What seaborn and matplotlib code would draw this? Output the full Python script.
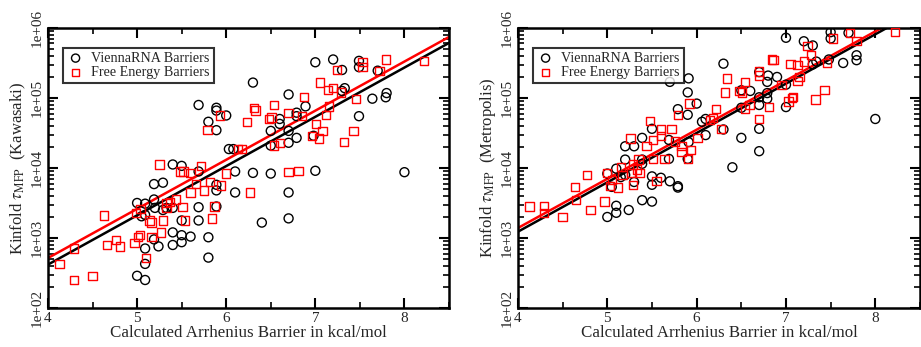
import matplotlib
matplotlib.use("Agg")
import matplotlib.pyplot as plt
import numpy as np
import pandas as pd
import seaborn as sns
from matplotlib.ticker import LogLocator, MultipleLocator, NullFormatter

# ---------------------------------------------------------------------------
# Data (barrier in kcal/mol, log10 of Kinfold tau_MFP)
# ---------------------------------------------------------------------------

kaw_vienna_x = [7.0, 7.2, 7.49, 7.49, 7.3, 7.7, 6.3, 7.33, 7.3, 6.7, 7.8, 7.79, 7.64,
                5.69, 5.89, 5.89, 6.0, 6.89, 6.79, 6.79, 6.6, 6.6, 5.8, 5.89, 6.5,
                6.7, 7.49, 6.5, 6.7, 6.79, 6.98, 6.03, 6.08, 5.4, 5.5, 5.69, 6.1,
                6.3, 6.5, 7.0, 8.0, 5.19, 5.29, 5.89, 5.89, 6.1, 6.7, 5.0, 5.09,
                5.19, 5.2, 5.09, 5.29, 5.33, 5.4, 5.69, 5.89, 5.05, 5.5, 5.69, 6.7,
                6.4, 5.4, 5.5, 5.6, 5.8, 5.19, 5.4, 5.5, 5.24, 5.09, 5.09, 5.8,
                5.0, 5.09]
kaw_vienna_logy = [5.51, 5.55, 5.53, 5.44, 5.40, 5.39, 5.22, 5.14, 5.10, 5.05, 5.07, 5.01,
                   4.99, 4.90, 4.86, 4.82, 4.75, 4.88, 4.79, 4.74, 4.70, 4.63, 4.66, 4.54,
                   4.53, 4.53, 4.74, 4.32, 4.36, 4.43, 4.46, 4.27, 4.27, 4.05, 4.03, 3.95,
                   3.95, 3.93, 3.92, 3.96, 3.94, 3.77, 3.79, 3.76, 3.68, 3.65, 3.65, 3.50,
                   3.49, 3.55, 3.43, 3.33, 3.40, 3.43, 3.43, 3.44, 3.45, 3.31, 3.25, 3.25,
                   3.28, 3.22, 3.08, 3.04, 3.02, 3.01, 2.98, 2.90, 2.94, 2.88, 2.85, 2.63,
                   2.72, 2.46, 2.40]

kaw_free_x = [8.22, 7.79, 7.53, 7.53, 7.24, 7.72, 7.05, 7.14, 7.2, 7.29, 6.87, 7.46,
              6.31, 6.33, 6.54, 5.93, 6.23, 6.48, 6.51, 6.7, 6.85, 7.15, 7.12, 7.01,
              7.08, 7.43, 5.79, 6.96, 7.04, 7.32, 6.54, 6.6, 6.13, 6.18, 5.25, 5.72,
              5.48, 5.52, 5.6, 6.0, 6.7, 6.81, 5.66, 5.82, 5.94, 5.6, 5.75, 6.27,
              5.44, 5.33, 5.37, 4.99, 5.04, 5.33, 5.51, 5.87, 4.63, 5.14, 5.16, 5.29,
              5.54, 5.84, 5.27, 5.03, 5.01, 5.16, 4.76, 4.66, 4.81, 4.97, 4.29, 5.1,
              4.13, 4.5, 4.29]
kaw_free_logy = [5.53, 5.55, 5.51, 5.44, 5.40, 5.39, 5.22, 5.11, 5.14, 5.08, 5.01, 4.99,
                 4.86, 4.82, 4.90, 4.75, 4.66, 4.70, 4.72, 4.79, 4.74, 4.88, 4.76, 4.63,
                 4.53, 4.53, 4.54, 4.46, 4.42, 4.37, 4.32, 4.36, 4.27, 4.27, 4.05, 4.03,
                 3.95, 3.95, 3.93, 3.92, 3.94, 3.96, 3.77, 3.80, 3.75, 3.65, 3.68, 3.65,
                 3.55, 3.50, 3.51, 3.36, 3.41, 3.43, 3.44, 3.45, 3.32, 3.25, 3.22, 3.25,
                 3.25, 3.28, 3.08, 3.04, 3.01, 3.01, 2.97, 2.90, 2.88, 2.93, 2.85, 2.71,
                 2.63, 2.46, 2.40]

met_vienna_x = [7.5, 7.5, 7.0, 7.2, 7.3, 7.7, 7.79, 7.79, 7.64, 7.34, 7.3, 7.48,
                6.3, 5.91, 5.7, 6.7, 6.8, 6.79, 6.9, 7.0, 5.9, 6.5, 6.6, 6.7,
                6.79, 6.79, 6.0, 5.79, 5.9, 6.5, 6.7, 7.0, 6.06, 6.1, 5.5, 6.3,
                6.7, 5.39, 5.69, 6.1, 6.5, 5.91, 5.2, 5.3, 6.7, 5.2, 5.69, 5.39,
                5.39, 5.9, 5.1, 5.0, 5.2, 5.15, 6.4, 5.5, 5.5, 5.6, 5.3, 5.05,
                5.7, 5.79, 5.79, 5.39, 5.5, 5.1, 5.1, 5.24, 5.0, 8.0]
met_vienna_logy = [5.94, 5.85, 5.86, 5.81, 5.75, 5.93, 5.61, 5.54, 5.50, 5.52, 5.48, 5.55,
                   5.49, 5.28, 5.23, 5.37, 5.32, 5.23, 5.30, 5.19, 5.08, 5.11, 5.10, 5.01,
                   4.99, 5.07, 4.92, 4.84, 4.76, 4.86, 4.90, 4.87, 4.66, 4.70, 4.56, 4.55,
                   4.56, 4.43, 4.40, 4.47, 4.43, 4.37, 4.31, 4.31, 4.24, 4.12, 4.13, 4.12,
                   4.06, 4.13, 3.99, 3.92, 3.90, 3.87, 4.01, 3.88, 3.76, 3.86, 3.80, 3.73,
                   3.81, 3.74, 3.72, 3.54, 3.52, 3.46, 3.36, 3.40, 3.30, 4.70]

met_free_x = [8.22, 7.72, 7.53, 7.79, 7.24, 7.28, 6.84, 6.86, 7.2, 7.05, 7.13, 7.46,
              6.7, 6.7, 6.34, 6.54, 7.13, 7.15, 6.95, 6.48, 6.51, 6.32, 7.43, 7.03,
              7.07, 7.08, 7.33, 5.92, 6.22, 6.54, 6.59, 6.81, 5.79, 6.7, 6.15, 6.18,
              5.48, 5.6, 5.6, 5.72, 6.27, 5.51, 5.26, 5.76, 5.83, 6.01, 5.44, 5.94,
              5.83, 5.9, 5.64, 5.51, 5.35, 5.29, 5.27, 5.15, 5.17, 5.0, 5.36, 5.33,
              4.77, 5.05, 5.03, 5.12, 5.29, 5.55, 4.64, 4.65, 4.97, 4.13, 4.29, 4.29,
              4.81, 4.5]
met_free_logy = [5.94, 5.93, 5.85, 5.81, 5.74, 5.61, 5.55, 5.54, 5.52, 5.49, 5.47, 5.50,
                 5.38, 5.32, 5.28, 5.23, 5.24, 5.30, 5.19, 5.10, 5.08, 5.08, 5.11, 4.95,
                 5.00, 5.01, 4.98, 4.92, 4.84, 4.85, 4.90, 4.87, 4.76, 4.70, 4.69, 4.71,
                 4.67, 4.55, 4.46, 4.56, 4.56, 4.40, 4.42, 4.38, 4.31, 4.43, 4.31, 4.26,
                 4.23, 4.13, 4.13, 4.13, 4.12, 4.05, 3.93, 4.01, 3.90, 3.93, 3.93, 3.98,
                 3.90, 3.83, 3.74, 3.72, 3.76, 3.81, 3.73, 3.54, 3.52, 3.45, 3.46, 3.36,
                 3.40, 3.30]

# fitted lines as printed: log10(tau) at 4 kcal/mol and slope per kcal/mol
# order: [ViennaRNA, Free Energy]
kaw_fit_at4 = [2.62, 2.714]
kaw_fit_slope = [0.7036, 0.7016]
met_fit_at4 = [3.09, 3.143]
met_fit_slope = [0.705, 0.702]

panels = [
    ("Kawasaki", kaw_vienna_x, kaw_vienna_logy, kaw_free_x, kaw_free_logy,
     kaw_fit_at4, kaw_fit_slope),
    ("Metropolis", met_vienna_x, met_vienna_logy, met_free_x, met_free_logy,
     met_fit_at4, met_fit_slope),
]

x_ticks = [4, 5, 6, 7, 8]
y_ticks = [1e2, 1e3, 1e4, 1e5, 1e6]
y_tick_labels = ["1e+02", "1e+03", "1e+04", "1e+05", "1e+06"]

# ---------------------------------------------------------------------------
# Style
# ---------------------------------------------------------------------------

sns.set_theme(style="white")
plt.rcParams.update({
    "font.family": ["Liberation Serif", "DejaVu Serif"],
    "mathtext.fontset": "stix",
    "font.size": 11,
})

fig = plt.figure(figsize=(9.21, 3.47), dpi=100)
axes = [fig.add_axes([0.0521, 0.1124, 0.4354, 0.807]),
        fig.add_axes([0.5624, 0.1124, 0.4365, 0.807])]

for ax, (name, vx, vy, fx, fy, at4, slopes) in zip(axes, panels):
    vienna = pd.DataFrame({"barrier": vx, "tau": 10 ** np.array(vy)})
    free = pd.DataFrame({"barrier": fx, "tau": 10 ** np.array(fy)})

    sns.scatterplot(data=vienna, x="barrier", y="tau", ax=ax, marker="o", s=42,
                    color="black", facecolor="none", edgecolor="black",
                    linewidth=1.0, label="ViennaRNA Barriers", zorder=3)
    sns.scatterplot(data=free, x="barrier", y="tau", ax=ax, marker="s", s=36,
                    color="red", facecolor="none", edgecolor="red",
                    linewidth=1.0, label="Free Energy Barriers", zorder=3)

    # regression lines in log space
    xs = np.array([4.0, 8.5])
    for b0, m, col in zip(at4, slopes, ["black", "red"]):
        ax.plot(xs, 10 ** (b0 + m * (xs - 4.0)), color=col, lw=1.8, zorder=2)

    ax.set_yscale("log")
    ax.set_xlim(4, 8.5)
    ax.set_ylim(1e2, 1e6)
    ax.set_xticks(x_ticks)
    ax.set_xticklabels([str(t) for t in x_ticks])
    ax.xaxis.set_minor_locator(MultipleLocator(0.5))
    ax.set_yticks(y_ticks)
    ax.set_yticklabels(y_tick_labels, rotation=90, va="center")
    ax.yaxis.set_minor_locator(LogLocator(base=10, subs=np.arange(2, 10)))
    ax.yaxis.set_minor_formatter(NullFormatter())

    ax.tick_params(which="both", direction="in", top=True, right=True,
                   bottom=True, left=True, color="black", labelsize=11, pad=3)
    ax.tick_params(which="major", length=7, width=1.5)
    ax.tick_params(which="minor", length=4, width=1.2)
    for sp in ax.spines.values():
        sp.set_linewidth(1.8)
        sp.set_color("black")

    ax.set_xlabel("Calculated Arrhenius Barrier in kcal/mol", fontsize=12.2, labelpad=0)
    ax.set_ylabel(r"Kinfold $\tau_{\rm MFP}$  (" + name + ")", fontsize=12, labelpad=2)

    leg = ax.legend(loc="upper left", bbox_to_anchor=(0.037, 0.93), fontsize=10.2,
                    frameon=True, fancybox=False, handletextpad=0.5,
                    borderpad=0.3, labelspacing=0.1, handlelength=1.2,
                    borderaxespad=0, markerscale=0.9)
    leg.get_frame().set_edgecolor("black")
    leg.get_frame().set_linewidth(1.5)

fig.savefig("out.png", dpi=100)
